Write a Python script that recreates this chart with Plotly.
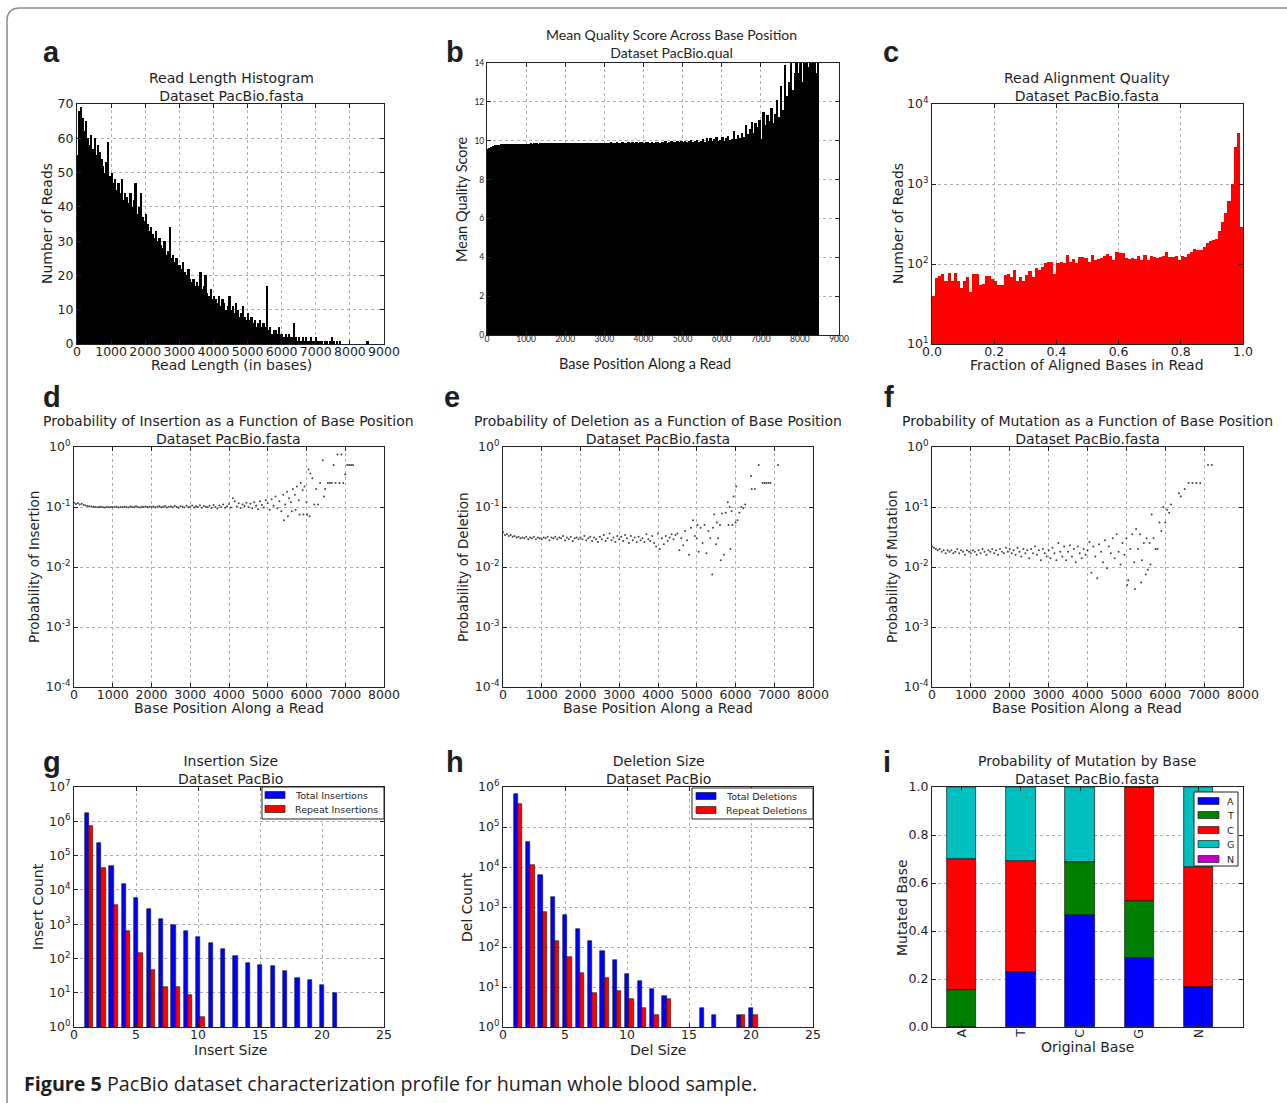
import numpy as np
import plotly.graph_objects as go
from plotly.subplots import make_subplots

W, H = 1287, 1103
TXT = '#1e1e1e'
FONT = 'DejaVu Sans'
FONT_B = 'Lato'

# ---------------- data ----------------
# a: read length histogram (bin width 50)
read_len_bins = list(range(0, 8550, 50))
read_len_counts = [
    55, 68, 69, 66, 62, 65, 60, 58, 61, 57,
    60, 55, 58, 56, 54, 52, 50, 53, 59, 49,
    50, 47, 48, 45, 47, 44, 48, 42, 44, 43,
    41, 44, 40, 42, 47, 38, 40, 44, 37, 36,
    38, 35, 33, 34, 32, 31, 33, 30, 31, 29,
    28, 30, 26, 27, 34, 25, 26, 24, 25, 23,
    23, 22, 24, 21, 20, 22, 19, 18, 19, 17,
    18, 17, 21, 16, 17, 20, 15, 14, 16, 13,
    14, 13, 12, 14, 11, 13, 12, 10, 11, 14,
    10, 11, 9, 12, 10, 8, 9, 11, 8, 7,
    9, 7, 8, 6, 7, 5, 6, 7, 5, 6,
    5, 17, 4, 5, 3, 4, 4, 3, 5, 3,
    3, 2, 3, 2, 3, 2, 2, 6, 2, 1,
    2, 1, 2, 1, 2, 1, 1, 2, 1, 1,
    2, 1, 1, 1, 0, 1, 1, 0, 1, 2,
    1, 0, 1, 0, 1, 0, 0, 0, 0, 0,
    0, 0, 0, 0, 0, 0, 0, 0, 0, 0,
    1,
]

# b: mean quality score per base position (bin width 50)
qual_bins = list(range(0, 8500, 50))
qual_mean = [
    9.55, 9.65, 9.70, 9.74, 9.77, 9.79, 9.80, 9.81, 9.82, 9.82,
    9.83, 9.83, 9.84, 9.83, 9.84, 9.84, 9.85, 9.84, 9.85, 9.85,
    9.85, 9.85, 9.86, 9.85, 9.86, 9.86, 9.85, 9.86, 9.86, 9.87,
    9.86, 9.87, 9.86, 9.87, 9.87, 9.86, 9.87, 9.87, 9.88, 9.87,
    9.88, 9.87, 9.88, 9.88, 9.87, 9.88, 9.89, 9.88, 9.88, 9.89,
    9.88, 9.89, 9.89, 9.88, 9.90, 9.89, 9.89, 9.90, 9.88, 9.90,
    9.89, 9.90, 9.89, 9.91, 9.88, 9.90, 9.91, 9.89, 9.90, 9.91,
    9.90, 9.89, 9.92, 9.90, 9.91, 9.89, 9.92, 9.90, 9.93, 9.91,
    9.90, 9.93, 9.91, 9.89, 9.94, 9.90, 9.92, 9.95, 9.90, 9.93,
    9.91, 9.96, 9.90, 9.94, 9.97, 9.92, 9.95, 9.99, 9.91, 9.96,
    9.93, 10.0, 9.92, 9.97, 10.02, 9.94, 9.99, 10.05, 9.93, 10.01,
    10.08, 9.95, 10.12, 10.0, 10.15, 9.96, 10.1, 10.18, 9.98, 10.05,
    10.2, 9.97, 10.15, 10.25, 10.02, 10.1, 10.5, 10.1, 10.3, 10.15,
    10.4, 10.2, 10.8, 10.35, 10.6, 10.95, 10.4, 10.9, 10.7, 11.05,
    10.1, 11.5, 10.8, 11.3, 11.0, 11.7, 10.9, 11.4, 12.1, 11.2,
    12.8, 11.6, 13.9, 12.3, 13.0, 14.2, 12.6, 13.5, 14.5, 13.5,
    14.5, 13.0, 14.5, 14.5, 13.8, 14.5, 14.5, 14.5, 13.5, 14.5,
]

# c: fraction of aligned bases (bin width 0.01)
align_bins = [i / 100 for i in range(100)]
align_counts = [
    40, 67, 70, 74, 62, 77, 62, 77, 62, 50,
    61, 68, 45, 74, 74, 54, 57, 70, 71, 65,
    62, 54, 54, 73, 76, 69, 85, 62, 69, 62,
    72, 82, 69, 90, 85, 92, 102, 105, 105, 74,
    102, 106, 102, 129, 107, 115, 102, 124, 124, 120,
    106, 131, 113, 116, 120, 127, 134, 127, 111, 143,
    137, 136, 120, 115, 120, 116, 126, 111, 131, 113,
    127, 124, 120, 122, 127, 141, 124, 124, 127, 111,
    126, 124, 134, 143, 155, 150, 150, 163, 183, 194,
    202, 205, 259, 334, 437, 610, 1010, 2920, 4370, 290,
]

# d/e/f: error probabilities along the read
dense_pos = list(range(0, 5000, 50))
ins_prob_dense = [
    0.118, 0.112, 0.115, 0.110, 0.113, 0.108, 0.106, 0.104, 0.103, 0.102,
    0.101, 0.100, 0.099, 0.100, 0.101, 0.099, 0.098, 0.100, 0.099, 0.100,
    0.099, 0.100, 0.101, 0.098, 0.100, 0.099, 0.101, 0.100, 0.098, 0.102,
    0.100, 0.099, 0.103, 0.100, 0.098, 0.101, 0.100, 0.102, 0.099, 0.101,
    0.100, 0.102, 0.098, 0.101, 0.103, 0.099, 0.100, 0.104, 0.098, 0.101,
    0.102, 0.099, 0.104, 0.100, 0.097, 0.103, 0.101, 0.098, 0.105, 0.099,
    0.101, 0.106, 0.098, 0.103, 0.100, 0.107, 0.097, 0.104, 0.101, 0.099,
    0.105, 0.096, 0.108, 0.100, 0.094, 0.106, 0.099, 0.110, 0.097, 0.103,
    0.112, 0.098, 0.140, 0.125, 0.102, 0.115, 0.096, 0.110, 0.104, 0.118,
    0.100, 0.113, 0.095, 0.120, 0.105, 0.092, 0.125, 0.108, 0.098, 0.130,
]
ins_tail_pos = [5000, 5050, 5100, 5150, 5200, 5250, 5300, 5350, 5400, 5420,
                5450, 5500, 5520, 5550, 5600, 5620, 5650, 5700, 5720, 5750,
                5800, 5820, 5850, 5900, 5920, 5950, 6000, 6020, 6050, 6080,
                6100, 6150, 6200, 6250, 6300, 6350, 6420, 6450, 6480, 6550,
                6600, 6650, 6700, 6750, 6800, 6850, 6900, 6950, 7000, 7050,
                7100, 7150, 7200]
ins_tail_prob = [0.115, 0.090, 0.135, 0.105, 0.150, 0.095, 0.125, 0.085, 0.160, 0.060,
                 0.110, 0.180, 0.070, 0.140, 0.120, 0.085, 0.200, 0.160, 0.090, 0.220,
                 0.130, 0.075, 0.250, 0.190, 0.075, 0.220, 0.120, 0.075, 0.420, 0.070,
                 0.360, 0.300, 0.110, 0.200, 0.110, 0.250, 0.600, 0.150, 0.200, 0.250,
                 0.250, 0.250, 0.500, 0.250, 0.750, 0.250, 0.750, 0.250, 0.350, 0.500,
                 0.500, 0.500, 0.500]

del_prob_dense = [
    0.038, 0.034, 0.035, 0.033, 0.034, 0.032, 0.033, 0.031, 0.032, 0.030,
    0.031, 0.030, 0.032, 0.029, 0.031, 0.030, 0.032, 0.029, 0.031, 0.030,
    0.029, 0.031, 0.030, 0.032, 0.028, 0.031, 0.030, 0.032, 0.029, 0.031,
    0.030, 0.033, 0.028, 0.031, 0.029, 0.032, 0.027, 0.030, 0.031, 0.029,
    0.031, 0.029, 0.033, 0.028, 0.030, 0.032, 0.027, 0.031, 0.029, 0.026,
    0.032, 0.029, 0.034, 0.027, 0.030, 0.036, 0.028, 0.031, 0.026, 0.033,
    0.029, 0.032, 0.027, 0.034, 0.030, 0.025, 0.033, 0.028, 0.031, 0.026,
    0.032, 0.028, 0.030, 0.026, 0.035, 0.029, 0.027, 0.033, 0.025, 0.022,
    0.036, 0.020, 0.030, 0.024, 0.033, 0.027, 0.031, 0.035, 0.029, 0.034,
    0.036, 0.019, 0.030, 0.023, 0.040, 0.028, 0.016, 0.045, 0.060, 0.033,
]
del_tail_pos = [5000, 5020, 5050, 5100, 5150, 5200, 5250, 5300, 5350, 5400,
                5420, 5450, 5500, 5520, 5550, 5600, 5620, 5650, 5700, 5750,
                5800, 5820, 5850, 5870, 5900, 5920, 5950, 6000, 6020, 6050,
                6100, 6150, 6200, 6250, 6400, 6420, 6500, 6600, 6700, 6750,
                6800, 6850, 6900, 7100]
del_tail_prob = [0.030, 0.050, 0.018, 0.045, 0.025, 0.050, 0.017, 0.040, 0.030, 0.0075,
                 0.045, 0.075, 0.024, 0.055, 0.030, 0.050, 0.013, 0.078, 0.016, 0.080,
                 0.120, 0.050, 0.100, 0.020, 0.085, 0.050, 0.150, 0.055, 0.220, 0.060,
                 0.080, 0.100, 0.095, 0.110, 0.330, 0.200, 0.200, 0.500, 0.250, 0.250,
                 0.250, 0.250, 0.250, 0.500]

mut_prob_dense = [
    0.022, 0.021, 0.020, 0.019, 0.020, 0.018, 0.019, 0.017, 0.019, 0.018,
    0.019, 0.017, 0.018, 0.020, 0.017, 0.019, 0.018, 0.016, 0.019, 0.018,
    0.017, 0.019, 0.018, 0.016, 0.019, 0.017, 0.020, 0.018, 0.016, 0.019,
    0.018, 0.020, 0.017, 0.019, 0.016, 0.020, 0.018, 0.017, 0.021, 0.018,
    0.020, 0.017, 0.019, 0.016, 0.021, 0.018, 0.015, 0.020, 0.017, 0.019,
    0.014, 0.020, 0.017, 0.022, 0.016, 0.019, 0.013, 0.020, 0.017, 0.015,
    0.019, 0.014, 0.021, 0.017, 0.013, 0.025, 0.018, 0.015, 0.022, 0.013,
    0.018, 0.023, 0.015, 0.020, 0.012, 0.022, 0.017, 0.014, 0.020, 0.016,
    0.019, 0.026, 0.008, 0.022, 0.015, 0.0065, 0.024, 0.018, 0.012, 0.028,
    0.0095, 0.022, 0.017, 0.030, 0.014, 0.035, 0.018, 0.011, 0.025, 0.016,
]
mut_tail_pos = [5000, 5020, 5050, 5100, 5150, 5200, 5220, 5250, 5300, 5350,
                5380, 5400, 5450, 5500, 5520, 5550, 5600, 5620, 5650, 5700,
                5750, 5800, 5850, 5900, 5950, 6000, 6050, 6100, 6150, 6350,
                6400, 6500, 6600, 6700, 6800, 6900, 7100, 7200]
mut_tail_prob = [0.030, 0.005, 0.006, 0.020, 0.035, 0.012, 0.0043, 0.043, 0.020, 0.035,
                 0.0055, 0.013, 0.025, 0.0075, 0.030, 0.009, 0.025, 0.011, 0.075, 0.030,
                 0.020, 0.020, 0.055, 0.040, 0.100, 0.055, 0.090, 0.080, 0.110, 0.170,
                 0.150, 0.200, 0.250, 0.250, 0.250, 0.250, 0.500, 0.500]

# g: insertion size
ins_sizes = list(range(1, 22))
ins_total = [1.7e6, 2.4e5, 5.0e4, 1.5e4, 5.8e3, 2.8e3, 1.4e3, 930, 630, 420,
             275, 187, 120, 74, 65, 62, 42, 26, 23, 17, 10]
ins_repeat = [7.4e5, 4.3e4, 3.6e3, 620, 141, 46, 15, 14.5, 8.8, 2,
              None, None, None, None, None, None, None, None, None, None, None]

# h: deletion size
del_sizes = list(range(1, 21))
del_total = [6.6e5, 4.2e4, 6.3e3, 1.8e3, 630, 280, 142, 79, 48, 21,
             14.5, 9, 6, None, None, 3, 2, None, 2, 3]
del_repeat = [3.8e5, 1.1e4, 740, 138, 55, 23, 7, 17, 8, 5,
              3, 2, 5, None, None, None, None, None, 2, 2]

# i: mutation by base
orig_bases = ['A', 'T', 'C', 'G', 'N']
mut_to = {
    'A': [0.0, 0.231, 0.467, 0.286, 0.166],
    'T': [0.156, 0.0, 0.220, 0.239, 0.0],
    'C': [0.544, 0.459, 0.0, 0.475, 0.501],
    'G': [0.300, 0.310, 0.313, 0.0, 0.333],
    'N': [0.0, 0.0, 0.0, 0.0, 0.0],
}
base_colors = {'A': '#0000ff', 'T': '#008000', 'C': '#ff0000', 'G': '#00bfbf', 'N': '#bf00bf'}
BLUE, RED = '#0000ff', '#ff0000'


def px_x(x):
    return x / W


def px_y(y):
    return 1 - y / H


def ann(text, x, y, size=14, family=FONT, angle=0, xanchor='center', yanchor='middle'):
    return dict(text=text, x=px_x(x), y=px_y(y), xref='paper', yref='paper', showarrow=False,
                font=dict(family=family, size=size, color=TXT), textangle=angle,
                xanchor=xanchor, yanchor=yanchor, align='center')


def pow_ticks(lo, hi):
    return dict(tickvals=[10.0 ** p for p in range(lo, hi + 1)],
                ticktext=['10<sup>%d</sup>' % p for p in range(lo, hi + 1)])


def ax_style(size=12.5, family=FONT, **kw):
    d = dict(showline=True, linecolor='#222', linewidth=1, mirror='ticks', ticks='inside',
             ticklen=4, tickcolor='#222', showgrid=True, gridcolor='#b0b0b0', griddash='dot',
             gridwidth=1, zeroline=False, automargin=False, tickangle=0,
             tickfont=dict(family=family, size=size, color=TXT))
    d.update(kw)
    return d


def legend_box(box, items, patch_x, text_x, patch_h=7, size=9.5):
    # matplotlib-like legend: framed box, colour patches and labels
    l, t, r, b = box
    shp = [dict(type='rect', xref='paper', yref='paper', x0=px_x(l), x1=px_x(r), y0=px_y(b), y1=px_y(t),
                fillcolor='white', line=dict(color='#222', width=1), layer='above')]
    txt = []
    for label, color, yc in items:
        shp.append(dict(type='rect', xref='paper', yref='paper', x0=px_x(patch_x[0]), x1=px_x(patch_x[1]),
                        y0=px_y(yc + patch_h / 2), y1=px_y(yc - patch_h / 2),
                        fillcolor=color, line=dict(color='#222', width=0.7), layer='above'))
        txt.append(ann(label, text_x, yc, size, xanchor='left'))
    return shp, txt


fig = make_subplots(rows=3, cols=3)

# a
fig.add_trace(go.Bar(x=read_len_bins, y=read_len_counts, width=50, offset=0,
                     marker=dict(color='black', line=dict(width=0))), row=1, col=1)
# b
fig.add_trace(go.Bar(x=qual_bins, y=qual_mean, width=50, offset=0,
                     marker=dict(color='black', line=dict(width=0))), row=1, col=2)
# c
fig.add_trace(go.Bar(x=align_bins, y=align_counts, width=0.01, offset=0,
                     marker=dict(color=RED, line=dict(width=0))), row=1, col=3)

# d, e, f
for col, dense, tpos, tprob in [(1, ins_prob_dense, ins_tail_pos, ins_tail_prob),
                                (2, del_prob_dense, del_tail_pos, del_tail_prob),
                                (3, mut_prob_dense, mut_tail_pos, mut_tail_prob)]:
    fig.add_trace(go.Scatter(x=dense_pos + tpos, y=dense + tprob, mode='markers',
                             marker=dict(size=2, color='#444')), row=2, col=col)

# g
fig.add_trace(go.Bar(x=ins_sizes, y=ins_total, width=0.35, offset=-0.15, name='Total Insertions',
                     marker=dict(color=BLUE, line=dict(color='#111', width=0.6))), row=3, col=1)
fig.add_trace(go.Bar(x=ins_sizes, y=ins_repeat, width=0.35, offset=0.2, name='Repeat Insertions',
                     marker=dict(color=RED, line=dict(color='#111', width=0.6))), row=3, col=1)
# h
fig.add_trace(go.Bar(x=del_sizes, y=del_total, width=0.35, offset=-0.15, name='Total Deletions',
                     marker=dict(color=BLUE, line=dict(color='#111', width=0.6))), row=3, col=2)
fig.add_trace(go.Bar(x=del_sizes, y=del_repeat, width=0.35, offset=0.2, name='Repeat Deletions',
                     marker=dict(color=RED, line=dict(color='#111', width=0.6))), row=3, col=2)
# i (stacked via base)
stack = np.array([mut_to[k] for k in mut_to])
bases = np.vstack([np.zeros(len(orig_bases)), np.cumsum(stack, axis=0)[:-1]])
for k, (name, vals) in enumerate(mut_to.items()):
    fig.add_trace(go.Bar(x=orig_bases, y=vals, base=bases[k], width=0.5, name=name,
                         marker=dict(color=base_colors[name], line=dict(color='#111', width=0.7))),
                  row=3, col=3)

# panel boxes (left, top, right, bottom) in pixels
boxes = [(77, 104, 384, 344), (487, 63, 839, 335), (932, 104, 1243, 344),
         (74, 447, 384, 687), (503, 447, 813, 687), (932, 447, 1243, 687),
         (74, 787, 384, 1027), (503, 787, 813, 1027), (932, 787, 1243, 1027)]
for n, (l, t, r, b) in enumerate(boxes, start=1):
    sfx = '' if n == 1 else str(n)
    fig.layout['xaxis' + sfx].domain = [px_x(l), px_x(r)]
    fig.layout['yaxis' + sfx].domain = [px_y(b), px_y(t)]

XS = dict(ticklabelstandoff=-4)
fig.update_xaxes(ax_style(range=[0, 9000], dtick=1000, **XS), row=1, col=1)
fig.update_yaxes(ax_style(range=[0, 70], dtick=10), row=1, col=1)
fig.update_xaxes(ax_style(size=8.5, family=FONT_B, range=[0, 9000], dtick=1000, **XS), row=1, col=2)
fig.update_yaxes(ax_style(size=8.5, family=FONT_B, range=[0, 14], dtick=2), row=1, col=2)
fig.update_xaxes(ax_style(range=[0, 1], dtick=0.2, tickformat='.1f', **XS), row=1, col=3)
fig.update_yaxes(ax_style(type='log', range=[1, 4], **pow_ticks(1, 4)), row=1, col=3)
for col in (1, 2, 3):
    fig.update_xaxes(ax_style(range=[0, 8000], dtick=1000, **XS), row=2, col=col)
    fig.update_yaxes(ax_style(type='log', range=[-4, 0], **pow_ticks(-4, 0)), row=2, col=col)
fig.update_xaxes(ax_style(range=[0, 25], dtick=5, **XS), row=3, col=1)
fig.update_yaxes(ax_style(type='log', range=[0, 7], **pow_ticks(0, 7)), row=3, col=1)
fig.update_xaxes(ax_style(range=[0, 25], dtick=5, **XS), row=3, col=2)
fig.update_yaxes(ax_style(type='log', range=[0, 6], **pow_ticks(0, 6)), row=3, col=2)
fig.update_xaxes(ax_style(type='category', range=[-0.5, 4.75], tickangle=-90, showgrid=False, **XS),
                 row=3, col=3)
fig.update_yaxes(ax_style(range=[0, 1], dtick=0.2, tickformat='.1f'), row=3, col=3)

# legends drawn like matplotlib's
shp_g, txt_g = legend_box((262, 787, 384, 819),
                          [('Total Insertions', BLUE, 795), ('Repeat Insertions', RED, 809)],
                          (265, 285), 293)
shp_h, txt_h = legend_box((692, 788, 813, 819),
                          [('Total Deletions', BLUE, 796), ('Repeat Deletions', RED, 810)],
                          (696, 716), 724)
shp_i, txt_i = legend_box((1194, 792, 1238, 866),
                          [(k, base_colors[k], y) for k, y in zip(mut_to, [801, 815, 830, 844, 859])],
                          (1198, 1219), 1225)

annotations = [
    # panel letters
    ann('<b>a</b>', 41, 52, 29, 'Liberation Sans', xanchor='left'),
    ann('<b>b</b>', 444, 52, 29, 'Liberation Sans', xanchor='left'),
    ann('<b>c</b>', 881, 52, 29, 'Liberation Sans', xanchor='left'),
    ann('<b>d</b>', 41, 397, 29, 'Liberation Sans', xanchor='left'),
    ann('<b>e</b>', 442, 397, 29, 'Liberation Sans', xanchor='left'),
    ann('<b>f</b>', 882, 397, 29, 'Liberation Sans', xanchor='left'),
    ann('<b>g</b>', 41, 762, 29, 'Liberation Sans', xanchor='left'),
    ann('<b>h</b>', 444, 762, 29, 'Liberation Sans', xanchor='left'),
    ann('<b>i</b>', 881, 762, 29, 'Liberation Sans', xanchor='left'),
    # titles
    ann('Read Length Histogram<br>Dataset PacBio.fasta', 231, 87),
    ann('Mean Quality Score Across Base Position<br>Dataset PacBio.qual', 671, 43, 14, FONT_B),
    ann('Read Alignment Quality<br>Dataset PacBio.fasta', 1087, 87),
    ann('Probability of Insertion as a Function of Base Position<br>Dataset PacBio.fasta', 229, 430),
    ann('Probability of Deletion as a Function of Base Position<br>Dataset PacBio.fasta', 658, 430),
    ann('Probability of Mutation as a Function of Base Position<br>Dataset PacBio.fasta', 1087, 430),
    ann('Insertion Size<br>Dataset PacBio', 230, 770),
    ann('Deletion Size<br>Dataset PacBio', 658, 770),
    ann('Probability of Mutation by Base<br>Dataset PacBio.fasta', 1087, 770),
    # x axis titles
    ann('Read Length (in bases)', 231, 365),
    ann('Base Position Along a Read', 645, 363, 14.5, FONT_B),
    ann('Fraction of Aligned Bases in Read', 1087, 365),
    ann('Base Position Along a Read', 229, 708),
    ann('Base Position Along a Read', 658, 708),
    ann('Base Position Along a Read', 1087, 708),
    ann('Insert Size', 230, 1050),
    ann('Del Size', 658, 1050),
    ann('Original Base', 1087, 1047),
    # y axis titles
    ann('Number of Reads', 47, 224, angle=-90),
    ann('Mean Quality Score', 462, 200, 14.5, FONT_B, angle=-90),
    ann('Number of Reads', 898, 224, angle=-90),
    ann('Probability of Insertion', 34, 567, 13.5, angle=-90),
    ann('Probability of Deletion', 463, 567, 13.5, angle=-90),
    ann('Probability of Mutation', 892, 567, 13.5, angle=-90),
    ann('Insert Count', 38, 907, angle=-90),
    ann('Del Count', 467, 907, angle=-90),
    ann('Mutated Base', 902, 907, angle=-90),
    # caption
    ann('<b>Figure 5</b> PacBio dataset characterization profile for human whole blood sample.',
        22, 1083, 19.7, 'Open Sans', xanchor='left'),
] + txt_g + txt_h + txt_i

border = ('M %f,%f L %f,%f Q %f,%f %f,%f L %f,%f' % (
    px_x(1300), px_y(8), px_x(20), px_y(8), px_x(7), px_y(8), px_x(7), px_y(21), px_x(7), px_y(1110)))

fig.update_layout(
    template='none',
    width=W, height=H,
    margin=dict(l=0, r=0, t=0, b=0, autoexpand=False),
    paper_bgcolor='white', plot_bgcolor='white',
    showlegend=False,
    barmode='overlay', bargap=0,
    annotations=annotations,
    shapes=[dict(type='path', path=border, xref='paper', yref='paper',
                 line=dict(color='#8a8a8a', width=1.5))] + shp_g + shp_h + shp_i,
)

# page body has a default 8px margin; drop it so the figure sits at the window origin
fig.write_html("out.html", config={'displayModeBar': False},
               post_script="document.body.style.margin='0';")
